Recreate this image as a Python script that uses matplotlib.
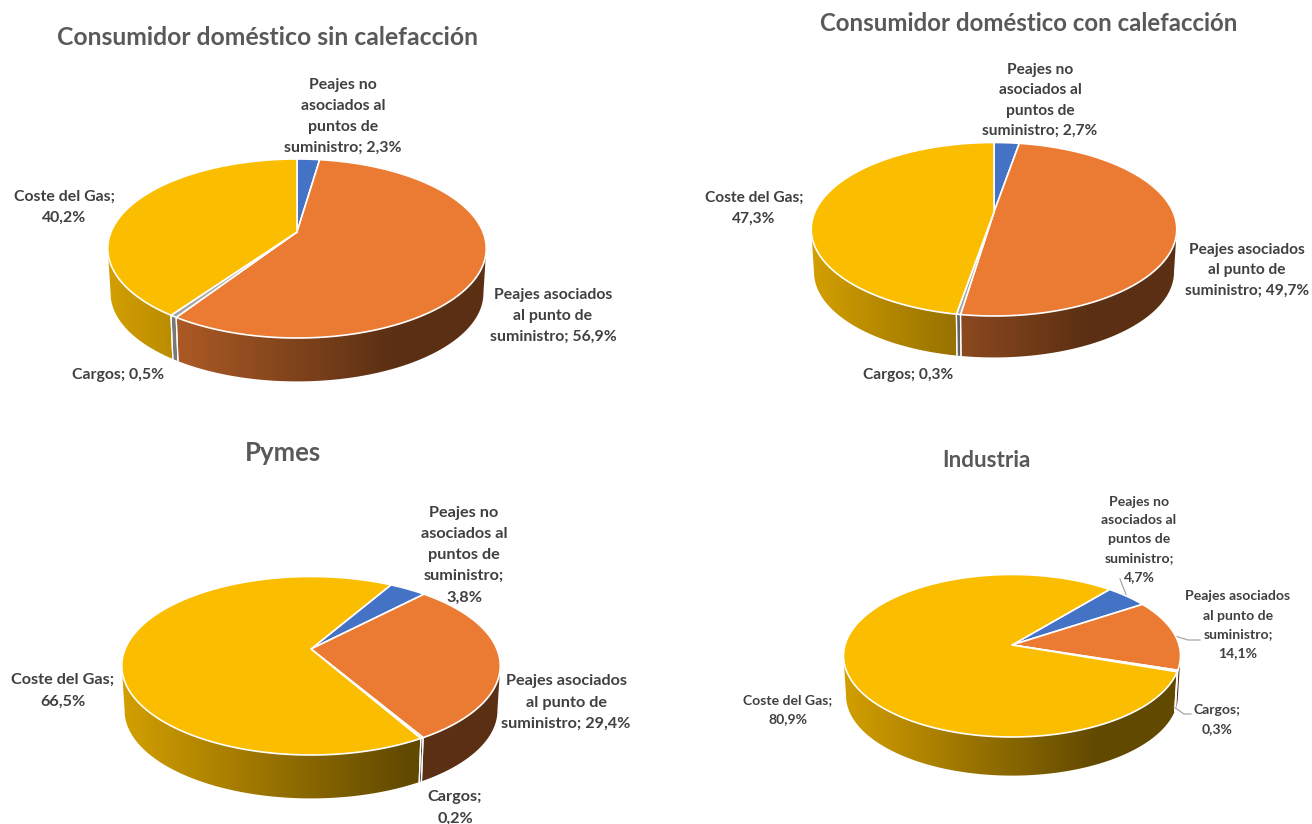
import numpy as np
from matplotlib import pyplot as plt
from matplotlib.colors import to_rgb
from matplotlib.patches import Polygon

plt.rcParams['font.family'] = ['Lato', 'DejaVu Sans']

# values of each chart, order: no asociados, asociados, cargos, gas
sin_calefaccion = [2.3, 56.9, 0.5, 40.2]
con_calefaccion = [2.7, 49.7, 0.3, 47.3]
pymes = [3.8, 29.4, 0.2, 66.5]
industria = [4.7, 14.1, 0.3, 80.9]

colors = ['#4472c4', '#eb7b33', '#a5a5a5', '#fbbd00']
TITLE_COLOR = '#595959'
LABEL_COLOR = '#404040'


def value_text(v):
    return '{:.1f}%'.format(v).replace('.', ',')


def project(a, pie, scale=1.0):
    # a = clockwise angle from the top of the circle, perspective squashes the far side
    X = np.sin(a)
    Y = np.cos(a)
    w = 1 + pie['p'] * Y
    return pie['cx'] + pie['A'] * scale * X / w, pie['cy'] - pie['B'] * scale * Y / w


def make_pie(cx, cy, left, right, top, bottom, depth, start):
    p = ((bottom - cy) - (cy - top)) / ((bottom - cy) + (cy - top))
    B = (cy - top) * (1 + p)
    A = (right - left) / 2 * np.sqrt(1 - p ** 2)
    return {'cx': cx, 'cy': cy, 'left': left, 'right': right, 'p': p, 'A': A, 'B': B,
            'depth': depth, 'start': np.radians(start)}


def shade(color):
    # side wall goes from light on the left to dark at 3/4 of the width, then stays
    rgb = np.array(to_rgb(color))
    f = np.linspace(0, 1, 256)
    factor = np.where(f < 0.75, 0.84 - (0.84 - 0.39) * f / 0.75, 0.39)
    return (factor[:, None] * rgb)[None, :, :]


def draw_pie(ax, values, pie):
    values = np.array(values, dtype=float)
    edges = pie['start'] + 2 * np.pi * np.concatenate([[0], np.cumsum(values) / values.sum()])
    front_a = np.arccos(-pie['p'])
    front_b = 2 * np.pi - front_a

    # walls
    for i in range(len(values)):
        for turn in (0, 2 * np.pi):
            a0 = max(edges[i] - turn, front_a)
            a1 = min(edges[i + 1] - turn, front_b)
            if a1 <= a0:
                continue
            t = np.linspace(a0, a1, 120)
            xt, yt = project(t, pie)
            xb, yb = project(t, pie, 0.985)
            yb = yb + pie['depth']
            pts = np.column_stack([np.r_[xt, xb[::-1]], np.r_[yt, yb[::-1]]])
            patch = Polygon(pts, closed=True, facecolor='none', edgecolor='none')
            ax.add_patch(patch)
            im = ax.imshow(shade(colors[i]), aspect='auto', interpolation='bilinear',
                           extent=(pie['left'], pie['right'], 824, 0), zorder=1)
            im.set_clip_path(patch)
            for a in (a0, a1):
                if a in (front_a, front_b):
                    continue
                xa, ya = project(a, pie)
                xc, yc = project(a, pie, 0.985)
                ax.plot([xa, xc], [ya, yc + pie['depth']], color='white', lw=0.9, zorder=2)

    # top face
    for i in range(len(values)):
        t = np.linspace(edges[i], edges[i + 1], 200)
        x, y = project(t, pie)
        pts = np.column_stack([np.r_[pie['cx'], x], np.r_[pie['cy'], y]])
        ax.add_patch(Polygon(pts, closed=True, facecolor=colors[i], edgecolor='white',
                             lw=1.2, joinstyle='round', zorder=3))


fig = plt.figure(figsize=(13.12, 8.24), dpi=100)
ax = fig.add_axes([0, 0, 1, 1])

pie1 = make_pie(297, 232, 107.5, 486, 159, 338, 45, 0)
pie2 = make_pie(994, 212, 810.5, 1176, 142.5, 316, 43, 0)
pie3 = make_pie(311, 649, 121.5, 500, 576.5, 755, 45, 30)
pie4 = make_pie(1012, 645, 842.5, 1179.5, 574.5, 737, 40, 40)

draw_pie(ax, sin_calefaccion, pie1)
draw_pie(ax, con_calefaccion, pie2)
draw_pie(ax, pymes, pie3)
draw_pie(ax, industria, pie4)

ax.set_xlim(0, 1312)
ax.set_ylim(824, 0)
ax.axis('off')

# titles
ax.text(267.5, 37, 'Consumidor doméstico sin calefacción', fontsize=17.85, fontweight='bold',
        color=TITLE_COLOR, ha='center', va='center')
ax.text(1028.5, 23, 'Consumidor doméstico con calefacción', fontsize=17.3, fontweight='bold',
        color=TITLE_COLOR, ha='center', va='center')
ax.text(283, 453, 'Pymes', fontsize=18.5, fontweight='bold',
        color=TITLE_COLOR, ha='center', va='center')
ax.text(986, 460, 'Industria', fontsize=16.2, fontweight='bold',
        color=TITLE_COLOR, ha='center', va='center')


def label(x, y, text, size=11.4, spacing=21):
    for n, line in enumerate(text.split('\n')):
        ax.text(x, y + 1.5 + n * spacing, line, fontsize=size, fontweight='bold', color=LABEL_COLOR,
                ha='center', va='center')


label(343, 83, 'Peajes no\nasociados al\npuntos de\nsuministro; ' + value_text(sin_calefaccion[0]))
label(64, 195, 'Coste del Gas;\n' + value_text(sin_calefaccion[3]))
label(553, 293, 'Peajes asociados\nal punto de\nsuministro; ' + value_text(sin_calefaccion[1]))
label(118, 373, 'Cargos; ' + value_text(sin_calefaccion[2]))

label(1040, 68, 'Peajes no\nasociados al\npuntos de\nsuministro; ' + value_text(con_calefaccion[0]), size=11.2, spacing=20.5)
label(754, 196, 'Coste del Gas;\n' + value_text(con_calefaccion[3]), size=11.2)
label(1247, 248, 'Peajes asociados\nal punto de\nsuministro; ' + value_text(con_calefaccion[1]), size=11.2, spacing=20.5)
label(908, 373, 'Cargos; ' + value_text(con_calefaccion[2]), size=11.2)

label(464, 511, 'Peajes no\nasociados al\npuntos de\nsuministro;\n' + value_text(pymes[0]), size=11.7, spacing=21.2)
label(63, 678, 'Coste del Gas;\n' + value_text(pymes[3]), size=11.7, spacing=22)
label(566, 680, 'Peajes asociados\nal punto de\nsuministro; ' + value_text(pymes[1]), size=11.7, spacing=21)
label(455, 796, 'Cargos;\n' + value_text(pymes[2]), size=11.7, spacing=21)

label(1139, 500, 'Peajes no\nasociados al\npuntos de\nsuministro;\n' + value_text(industria[0]), size=10.1, spacing=18.8)
label(1238, 595, 'Peajes asociados\nal punto de\nsuministro;\n' + value_text(industria[1]), size=10.1, spacing=19)
label(788, 699, 'Coste del Gas;\n' + value_text(industria[3]), size=10.1, spacing=19)
label(1217, 709, 'Cargos;\n' + value_text(industria[2]), size=10.1, spacing=19)

# leader lines of the last chart
ax.plot([1175, 1188, 1200], [636, 640, 640], color='#a6a6a6', lw=0.9)
ax.plot([1174, 1184, 1191], [707, 714, 714], color='#a6a6a6', lw=0.9)
ax.plot([1120, 1127], [579, 597], color='#a6a6a6', lw=0.9)

fig.savefig('out.png', dpi=100)
